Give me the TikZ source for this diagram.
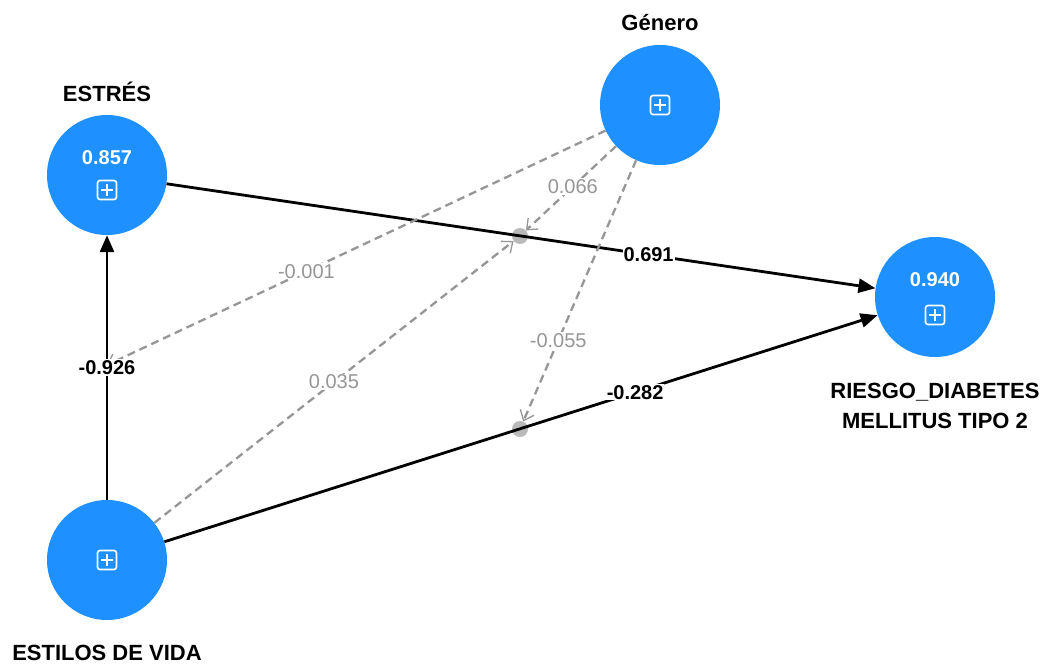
\documentclass[tikz,border=0pt]{standalone}
\usepackage{fontspec}
\setmainfont{Liberation Sans}
\usetikzlibrary{arrows.meta,positioning}
\definecolor{plsblue}{RGB}{30,144,255}
\definecolor{modgray}{RGB}{150,150,150}
\definecolor{dotgray}{RGB}{185,185,185}

\begin{document}
\begin{tikzpicture}[x=1pt, y=-1pt,
	latent/.style = {circle, fill=plsblue, minimum size=120pt, inner sep=0pt},
	lvname/.style = {font=\fontsize{22}{30}\selectfont\bfseries, align=center, inner sep=1pt},
	rsq/.style = {text=white, font=\fontsize{20}{24}\selectfont\bfseries, inner sep=0pt},
	effect/.style = {draw=black, line width=2.8pt, -{Triangle[length=17pt,width=14pt]}},
	modeffect/.style = {draw=modgray, line width=2.3pt, dash pattern=on 8pt off 5pt,
		-{Straight Barb[length=9pt,width=15pt,line width=1.3pt]}},
	coef/.style = {fill=white, inner sep=1pt, font=\fontsize{20}{24}\selectfont\bfseries},
	modcoef/.style = {coef, text=modgray, font=\fontsize{20}{24}\selectfont},
	moddot/.style = {circle, fill=dotgray, minimum size=16pt, inner sep=0pt},
	expander/.pic = {
		\draw[white, line width=1.6pt, rounded corners=2.5pt] (-9.5,-9.5) rectangle (9.5,9.5);
		\draw[white, line width=1.6pt] (-6,0) -- (6,0) (0,-6) -- (0,6);
	}]
	\useasboundingbox (0,0) rectangle (1041,669);

	% constructs
	\node[latent] (estres) at (107,175) {};
	\node[latent] (genero) at (660,105) {};
	\node[latent] (riesgo) at (935,297) {};
	\node[latent] (estilos) at (107,560) {};

	\node[lvname, above=12pt of estres] (lestres) {ESTRÉS};
	\node[lvname, above=13pt of genero] (lgenero) {Género};
	\node[lvname, below=25pt of riesgo] (lriesgo) {RIESGO\_DIABETES\\MELLITUS TIPO 2};
	\node[lvname, below=24pt of estilos] (lestilos) {ESTILOS DE VIDA};

	\node[rsq] (restres) at ([yshift=17pt]estres.center) {0.857};
	\node[rsq] (rriesgo) at ([yshift=17pt]riesgo.center) {0.940};
	\pic at ([yshift=-15pt]estres.center) {expander};
	\pic at ([yshift=-18pt]riesgo.center) {expander};
	\pic at (genero.center) {expander};
	\pic at (estilos.center) {expander};

	% moderating effects
	\node[moddot] (mod1) at (520,236) {};
	\node[moddot] (mod2) at (520,429) {};
	\coordinate (mod3) at (107,365);

	\draw[effect] (estilos) -- (estres);
	\draw[effect] (estres) -- (riesgo);
	\draw[effect] (estilos) -- (riesgo);

	\draw[modeffect] (genero) -- node[modcoef, pos=0.48] {0.066} (mod1);
	\draw[modeffect] (genero) -- node[modcoef, pos=0.69] {-0.055} (mod2);
	\draw[modeffect] (genero) -- node[modcoef, pos=0.6] {-0.001} (mod3);
	\draw[modeffect] (estilos) -- node[modcoef, pos=0.5] {0.035} (mod1);

	\path (estilos) -- node[coef] {-0.926} (estres);
	\path (estres) -- node[coef, pos=0.68] {0.691} (riesgo);
	\path (estilos) -- node[coef, pos=0.66] {-0.282} (riesgo);
\end{tikzpicture}
\end{document}
